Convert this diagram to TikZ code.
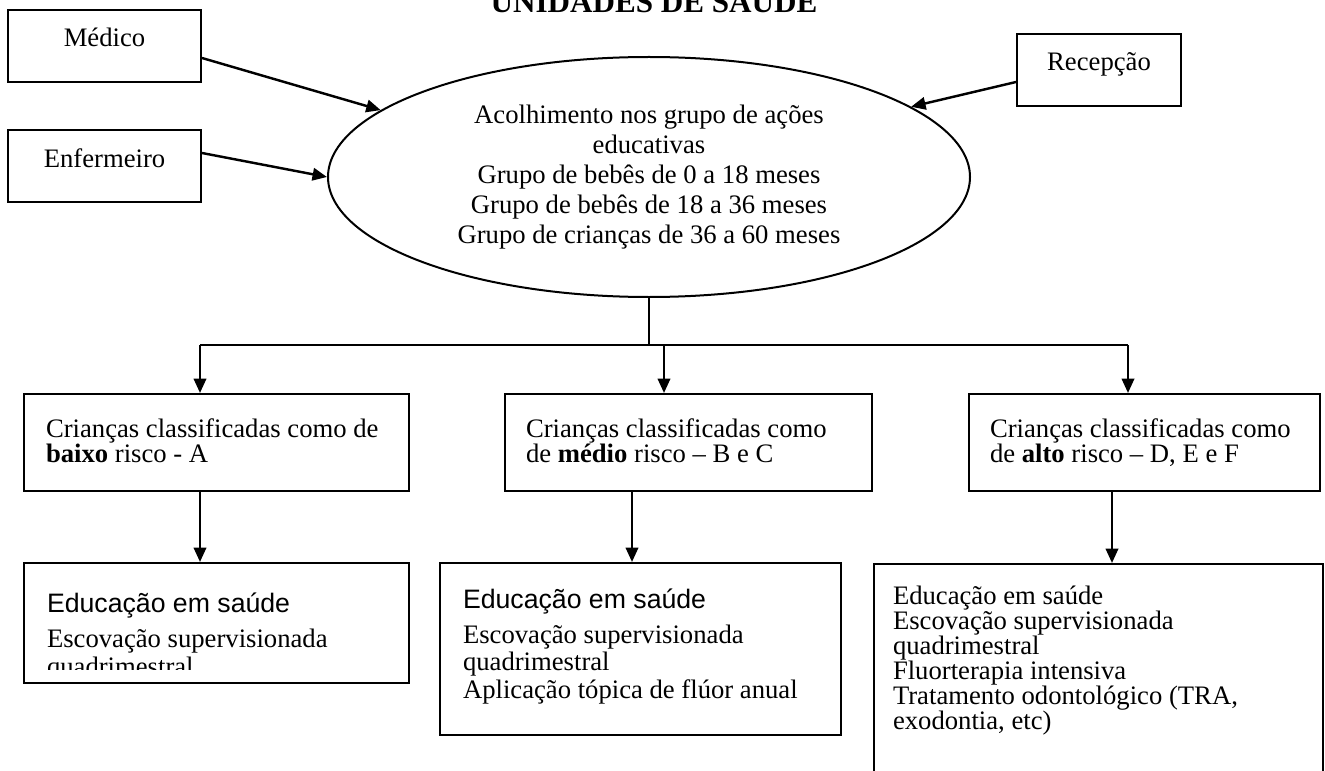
\documentclass[tikz,border=0pt]{standalone}
\usepackage{fontspec}
\setmainfont{Liberation Serif}
\setsansfont{Liberation Sans}
\usetikzlibrary{shapes.geometric,arrows.meta}

\begin{document}
\begin{tikzpicture}[x=0.45pt, y=-0.45pt,
    font=\fontsize{12}{11.25}\selectfont,
    caixa/.style ={draw, line width=0.9pt, rectangle, anchor=north west,
      inner ysep=0pt, align=flush left},
    origem/.style ={caixa, align=center, inner xsep=0pt,
      text height=16.65pt, text depth=15.75pt},
    seta/.style ={line width=1.1pt, -{Triangle[length=6.5pt, width=5.6pt]}},
    linha/.style ={line width=0.9pt}]
   \useasboundingbox (0,0) rectangle (1325,771);
   \node[anchor=base, font=\fontsize{14}{16}\selectfont\bfseries] (titulo) at (654,13) {UNIDADES DE SAÚDE};
   \node[origem, minimum width=86.85pt] (medico) at (7,9) {Médico};
   \node[origem, minimum width=86.85pt] (enfermeiro) at (7,129) {Enfermeiro};
   \node[origem, minimum width=73.8pt] (recepcao) at (1016,33) {Recepção};
   \node[draw, ellipse, line width=0.9pt, minimum width=288.9pt, minimum height=108pt,
     inner sep=0pt, align=center, font=\fontsize{12}{13.5}\selectfont] (acolh) at (649,177)
     {Acolhimento nos grupo de ações\\educativas\\Grupo de bebês de 0 a 18 meses\\
      Grupo de bebês de 18 a 36 meses\\Grupo de crianças de 36 a 60 meses};
   \draw[seta] ([yshift=-5.4pt]medico.east) -- (acolh.166);
   \draw[seta] ([yshift=5.85pt]enfermeiro.east) -- (acolh.west);
   \draw[seta] ([yshift=-5.4pt]recepcao.west) -- (acolh.15);

   \node[caixa, inner xsep=9.9pt, text width=153.45pt, text height=19.6pt, text depth=24.1pt]
     (baixo) at (23,393) {Crianças classificadas como de\\\textbf{baixo} risco - A};
   \node[caixa, inner xsep=9.45pt, text width=146.25pt, text height=19.6pt, text depth=24.1pt]
     (medio) at (504,393) {Crianças classificadas como\\de \textbf{médio} risco – B e C};
   \node[caixa, inner xsep=9.45pt, text width=139.05pt, text height=19.6pt, text depth=24.1pt]
     (alto) at (968,393) {Crianças classificadas como\\de \textbf{alto} risco – D, E e F};

   \node[caixa, inner sep=0pt, minimum width=173.25pt, minimum height=54pt,
     path picture={
       \clip (path picture bounding box.north west) rectangle ([yshift=6.3pt]path picture bounding box.south east);
       \node[anchor=north west, inner xsep=9.9pt, inner ysep=0pt, text width=153.45pt, align=flush left,
         text height=20.25pt, font=\fontsize{12}{12.4}\selectfont] (edubaixotexto) at (path picture bounding box.north west)
         {{\sffamily Educação em saúde}\\[3.4pt]Escovação supervisionada\\quadrimestral};
     }] (edubaixo) at (23,562) {};
   \node[caixa, inner xsep=10.35pt, text width=159.75pt, text height=20.25pt, text depth=57.15pt,
     font=\fontsize{12}{12.4}\selectfont] (edumedio) at (439,562)
     {{\sffamily Educação em saúde}\\[3.4pt]Escovação supervisionada\\quadrimestral\\Aplicação tópica de flúor anual};
   \node[caixa, inner xsep=8.55pt, text width=184.95pt, text height=18pt, text depth=85.5pt]
     (edualto) at (873,563)
     {Educação em saúde\\Escovação supervisionada\\quadrimestral\\Fluorterapia intensiva\\
      Tratamento odontológico (TRA,\\exodontia, etc)};

   \coordinate (ja) at (200,345);
   \coordinate (jb) at (664,345);
   \coordinate (jc) at (1128,345);
   \coordinate (kb) at (632,0);
   \coordinate (kc) at (1112,0);
   \draw[linha] (acolh.south) -- (acolh.south |- ja);
   \draw[linha] (ja) -- (jc);
   \draw[seta] (ja) -- (ja |- baixo.north);
   \draw[seta] (jb) -- (jb |- medio.north);
   \draw[seta] (jc) -- (jc |- alto.north);
   \draw[seta] (ja |- baixo.south) -- (ja |- edubaixo.north);
   \draw[seta] (kb |- medio.south) -- (kb |- edumedio.north);
   \draw[seta] (kc |- alto.south) -- (kc |- edualto.north);
\end{tikzpicture}
\end{document}
